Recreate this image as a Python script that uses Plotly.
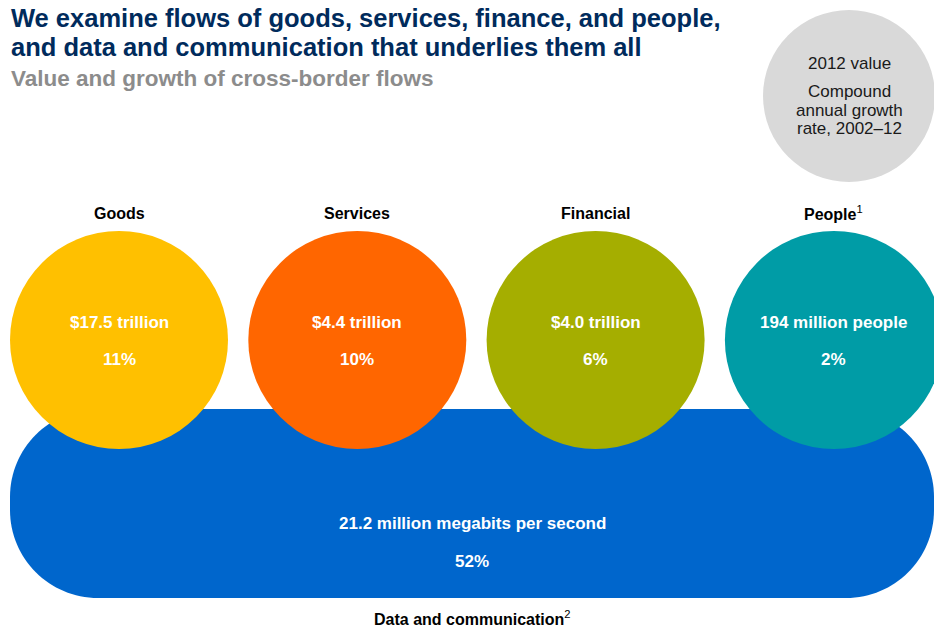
import plotly.graph_objects as go

# Cross-border flows, 2012 value and compound annual growth rate 2002-12
categories = ["Goods", "Services", "Financial", "People"]
footnotes = ["", "", "", "1"]
values_2012 = ["$17.5 trillion", "$4.4 trillion", "$4.0 trillion", "194 million people"]
growth_cagr = [11, 10, 6, 2]
colors = ["#FFC000", "#FF6600", "#A5AE00", "#009CA6"]

data_label = "Data and communication"
data_footnote = "2"
data_value = "21.2 million megabits per second"
data_growth = 52

W, H = 934, 628
FONT = "Arial, Liberation Sans, sans-serif"

fig = go.Figure()

shapes = []
annotations = []


def label(x, y, text, size, color, xanchor="center"):
    annotations.append(dict(x=x, y=y, text=text, showarrow=False, xref="x", yref="y",
                            xanchor=xanchor, yanchor="middle",
                            font=dict(family=FONT, size=size, color=color)))


def with_note(name, note):
    return f"<b>{name}</b>" + (f"<sup>{note}</sup>" if note else "")


# Rounded band for data and communication
bx0, bx1, by0, by1, r = 10, 934, 409, 598, 88
k = 0.5523 * r
path = (
    f"M {bx0 + r},{by0} L {bx1 - r},{by0} "
    f"C {bx1 - r + k},{by0} {bx1},{by0 + r - k} {bx1},{by0 + r} "
    f"L {bx1},{by1 - r} "
    f"C {bx1},{by1 - r + k} {bx1 - r + k},{by1} {bx1 - r},{by1} "
    f"L {bx0 + r},{by1} "
    f"C {bx0 + r - k},{by1} {bx0},{by1 - r + k} {bx0},{by1 - r} "
    f"L {bx0},{by0 + r} "
    f"C {bx0},{by0 + r - k} {bx0 + r - k},{by0} {bx0 + r},{by0} Z"
)
shapes.append(dict(type="path", path=path, xref="x", yref="y",
                   fillcolor="#0066CC", line=dict(width=0), layer="above"))

# Flow circles
cx0, step, cy, rad = 119, 238.3, 340, 109
for i, (cat, note, val, g, col) in enumerate(zip(categories, footnotes, values_2012,
                                                  growth_cagr, colors)):
    cx = cx0 + i * step
    shapes.append(dict(type="circle", xref="x", yref="y",
                       x0=cx - rad, x1=cx + rad, y0=cy - rad, y1=cy + rad,
                       fillcolor=col, line=dict(width=0), layer="above"))
    label(cx, 213, with_note(cat, note), 16, "#000000")
    label(cx, 322, f"<b>{val}</b>", 17, "#FFFFFF")
    label(cx, 359, f"<b>{g}%</b>", 17, "#FFFFFF")

bcx = (bx0 + bx1) / 2
label(bcx, 523, f"<b>{data_value}</b>", 17, "#FFFFFF")
label(bcx, 561, f"<b>{data_growth}%</b>", 17, "#FFFFFF")
label(bcx, 618, with_note(data_label, data_footnote), 16, "#000000")

# Key circle
shapes.append(dict(type="circle", xref="x", yref="y",
                   x0=763, x1=935, y0=10, y1=182,
                   fillcolor="#D9D9D9", line=dict(width=0), layer="above"))
for txt, y in [("2012 value", 63), ("Compound", 91), ("annual growth", 110), ("rate, 2002–12", 128)]:
    label(849, y, txt, 17, "#1A1A1A")

# Titles
label(9, 18, "<b>We examine flows of goods, services, finance, and people,</b>", 25.5, "#002B5C", "left")
label(9, 47, "<b>and data and communication that underlies them all</b>", 25.5, "#002B5C", "left")
label(9, 78, "<b>Value and growth of cross-border flows</b>", 22.5, "#8C8C8C", "left")

fig.update_layout(
    width=W, height=H,
    margin=dict(l=0, r=0, t=0, b=0),
    paper_bgcolor="#FFFFFF", plot_bgcolor="#FFFFFF",
    xaxis=dict(range=[0, W], visible=False, fixedrange=True),
    yaxis=dict(range=[H, 0], visible=False, fixedrange=True),
    shapes=shapes, annotations=annotations,
    showlegend=False,
)

fig.write_html("out.html")
